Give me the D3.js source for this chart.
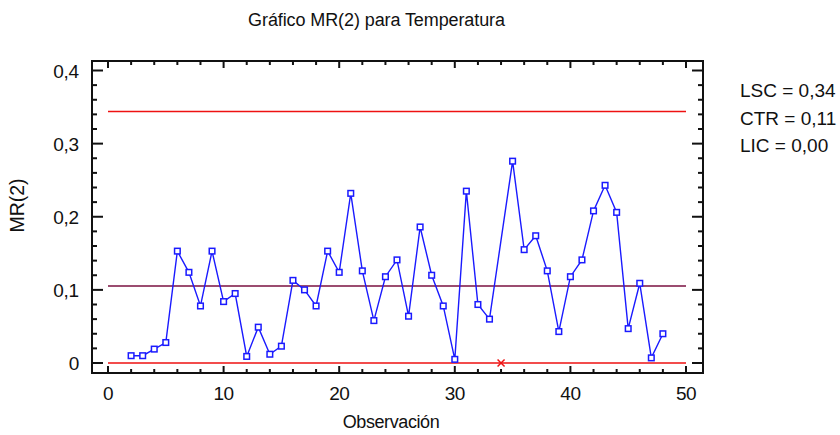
<!DOCTYPE html>
<html>
<head>
<meta charset="utf-8">
<script src="https://cdn.jsdelivr.net/npm/d3@7"></script>
<style>
  body { margin: 0; background: #fff; }
  svg { display: block; }
  text { font-family: "Liberation Sans", Arial, sans-serif; fill: #111; }
</style>
</head>
<body>
<svg id="chart" width="840" height="435"></svg>
<script>
// Moving range MR(2) of temperature, observations 2..48 (observation 34 excluded)
const observations = [2,3,4,5,6,7,8,9,10,11,12,13,14,15,16,17,18,19,20,21,22,23,24,25,
  26,27,28,29,30,31,32,33,35,36,37,38,39,40,41,42,43,44,45,46,47,48];
const mrValues = [0.010,0.010,0.019,0.028,0.153,0.124,0.078,0.153,0.084,0.095,0.009,0.049,
  0.012,0.023,0.113,0.100,0.078,0.153,0.124,0.232,0.126,0.058,0.118,0.141,0.064,0.186,
  0.120,0.078,0.005,0.235,0.080,0.060,0.276,0.155,0.174,0.126,0.043,0.118,0.141,0.208,
  0.243,0.206,0.047,0.109,0.007,0.040];
// Excluded observation, plotted as a cross on the lower limit
const excludedObs = [34];
const excludedVal = [0];

// Control limits
const limitNames = ["LSC", "CTR", "LIC"];
const limitValues = [0.344, 0.1053, 0.0];

const xTicks = [0, 10, 20, 30, 40, 50];
const yTicks = [0, 0.1, 0.2, 0.3, 0.4];

const svg = d3.select("#chart");
const frame = { left: 92, right: 703, top: 61, bottom: 373 };

const x = d3.scaleLinear().domain([0, 50]).range([108, 686]);
const y = d3.scaleLinear().domain([0, 0.4]).range([363, 70.5]);

const comma = v => d3.format(".1f")(v).replace(".", ",");
const fmtY = v => v === 0 ? "0" : comma(v);

// Frame
svg.append("rect")
  .attr("x", frame.left).attr("y", frame.top)
  .attr("width", frame.right - frame.left).attr("height", frame.bottom - frame.top)
  .attr("fill", "none").attr("stroke", "#111").attr("stroke-width", 2);

// Inward ticks on all four sides
const xMinor = d3.range(0, 51, 2);
const yMinor = d3.range(0, 0.4001, 0.02);
const tickG = svg.append("g").attr("stroke", "#111").attr("stroke-width", 2);
xMinor.forEach(v => {
  const major = Math.abs(v % 10) < 1e-9;
  const len = major ? 7 : 4;
  tickG.append("line").attr("x1", x(v)).attr("x2", x(v))
    .attr("y1", frame.bottom).attr("y2", frame.bottom - len);
  tickG.append("line").attr("x1", x(v)).attr("x2", x(v))
    .attr("y1", frame.top).attr("y2", frame.top + len);
});
yMinor.forEach(v => {
  const k = Math.round(v * 100);
  const major = k % 10 === 0;
  const len = major ? 11 : 5;
  tickG.append("line").attr("x1", frame.left).attr("x2", frame.left + len)
    .attr("y1", y(v)).attr("y2", y(v));
  tickG.append("line").attr("x1", frame.right).attr("x2", frame.right - len)
    .attr("y1", y(v)).attr("y2", y(v));
});

// Tick labels
svg.append("g").selectAll("text").data(xTicks).join("text")
  .attr("x", d => x(d)).attr("y", 400)
  .attr("text-anchor", "middle").attr("font-size", 19)
  .attr("letter-spacing", -0.5)
  .text(d => d);
svg.append("g").selectAll("text").data(yTicks).join("text")
  .attr("x", 79).attr("y", d => y(d) + 7)
  .attr("text-anchor", "end").attr("font-size", 19)
  .attr("letter-spacing", -0.2)
  .text(fmtY);

// Control limit lines
const limitColors = ["#ee1111", "#7a1040", "#ee1111"];
svg.append("g").selectAll("line").data(limitValues).join("line")
  .attr("x1", x(0)).attr("x2", x(50))
  .attr("y1", d => y(d)).attr("y2", d => y(d))
  .attr("stroke", (d, i) => limitColors[i]).attr("stroke-width", 1.5);

// Series line and markers
const pts = observations.map((o, i) => [o, mrValues[i]]);
svg.append("path")
  .datum(pts)
  .attr("fill", "none").attr("stroke", "#1a1aff").attr("stroke-width", 1.4)
  .attr("d", d3.line().x(d => x(d[0])).y(d => y(d[1])));
svg.append("g").selectAll("rect").data(pts).join("rect")
  .attr("x", d => x(d[0]) - 2.8).attr("y", d => y(d[1]) - 2.8)
  .attr("width", 5.6).attr("height", 5.6)
  .attr("fill", "#fff").attr("stroke", "#1a1aff").attr("stroke-width", 1.5);

// Excluded point cross
excludedObs.forEach((o, i) => {
  const cx = x(o), cy = y(excludedVal[i]), s = 3.5;
  svg.append("path")
    .attr("d", `M${cx - s},${cy - s}L${cx + s},${cy + s}M${cx - s},${cy + s}L${cx + s},${cy - s}`)
    .attr("stroke", "#ee1111").attr("stroke-width", 1.5);
});

// Titles
svg.append("text").attr("x", 376.5).attr("y", 26)
  .attr("text-anchor", "middle").attr("font-size", 18).attr("letter-spacing", -0.1)
  .text("Gráfico MR(2) para Temperatura");
svg.append("text").attr("x", 391).attr("y", 428)
  .attr("text-anchor", "middle").attr("font-size", 18).attr("letter-spacing", -0.4)
  .text("Observación");
svg.append("text")
  .attr("transform", "translate(24,205.5) rotate(-90)")
  .attr("text-anchor", "middle").attr("font-size", 19.5)
  .text("MR(2)");

// Limit legend
const fmt2 = v => d3.format(".2f")(v).replace(".", ",");
svg.append("g").selectAll("text").data(limitNames).join("text")
  .attr("x", 740).attr("y", (d, i) => 97 + i * 27.6)
  .attr("font-size", 19)
  .text((d, i) => `${d} = ${fmt2(limitValues[i])}`);
</script>
</body>
</html>
